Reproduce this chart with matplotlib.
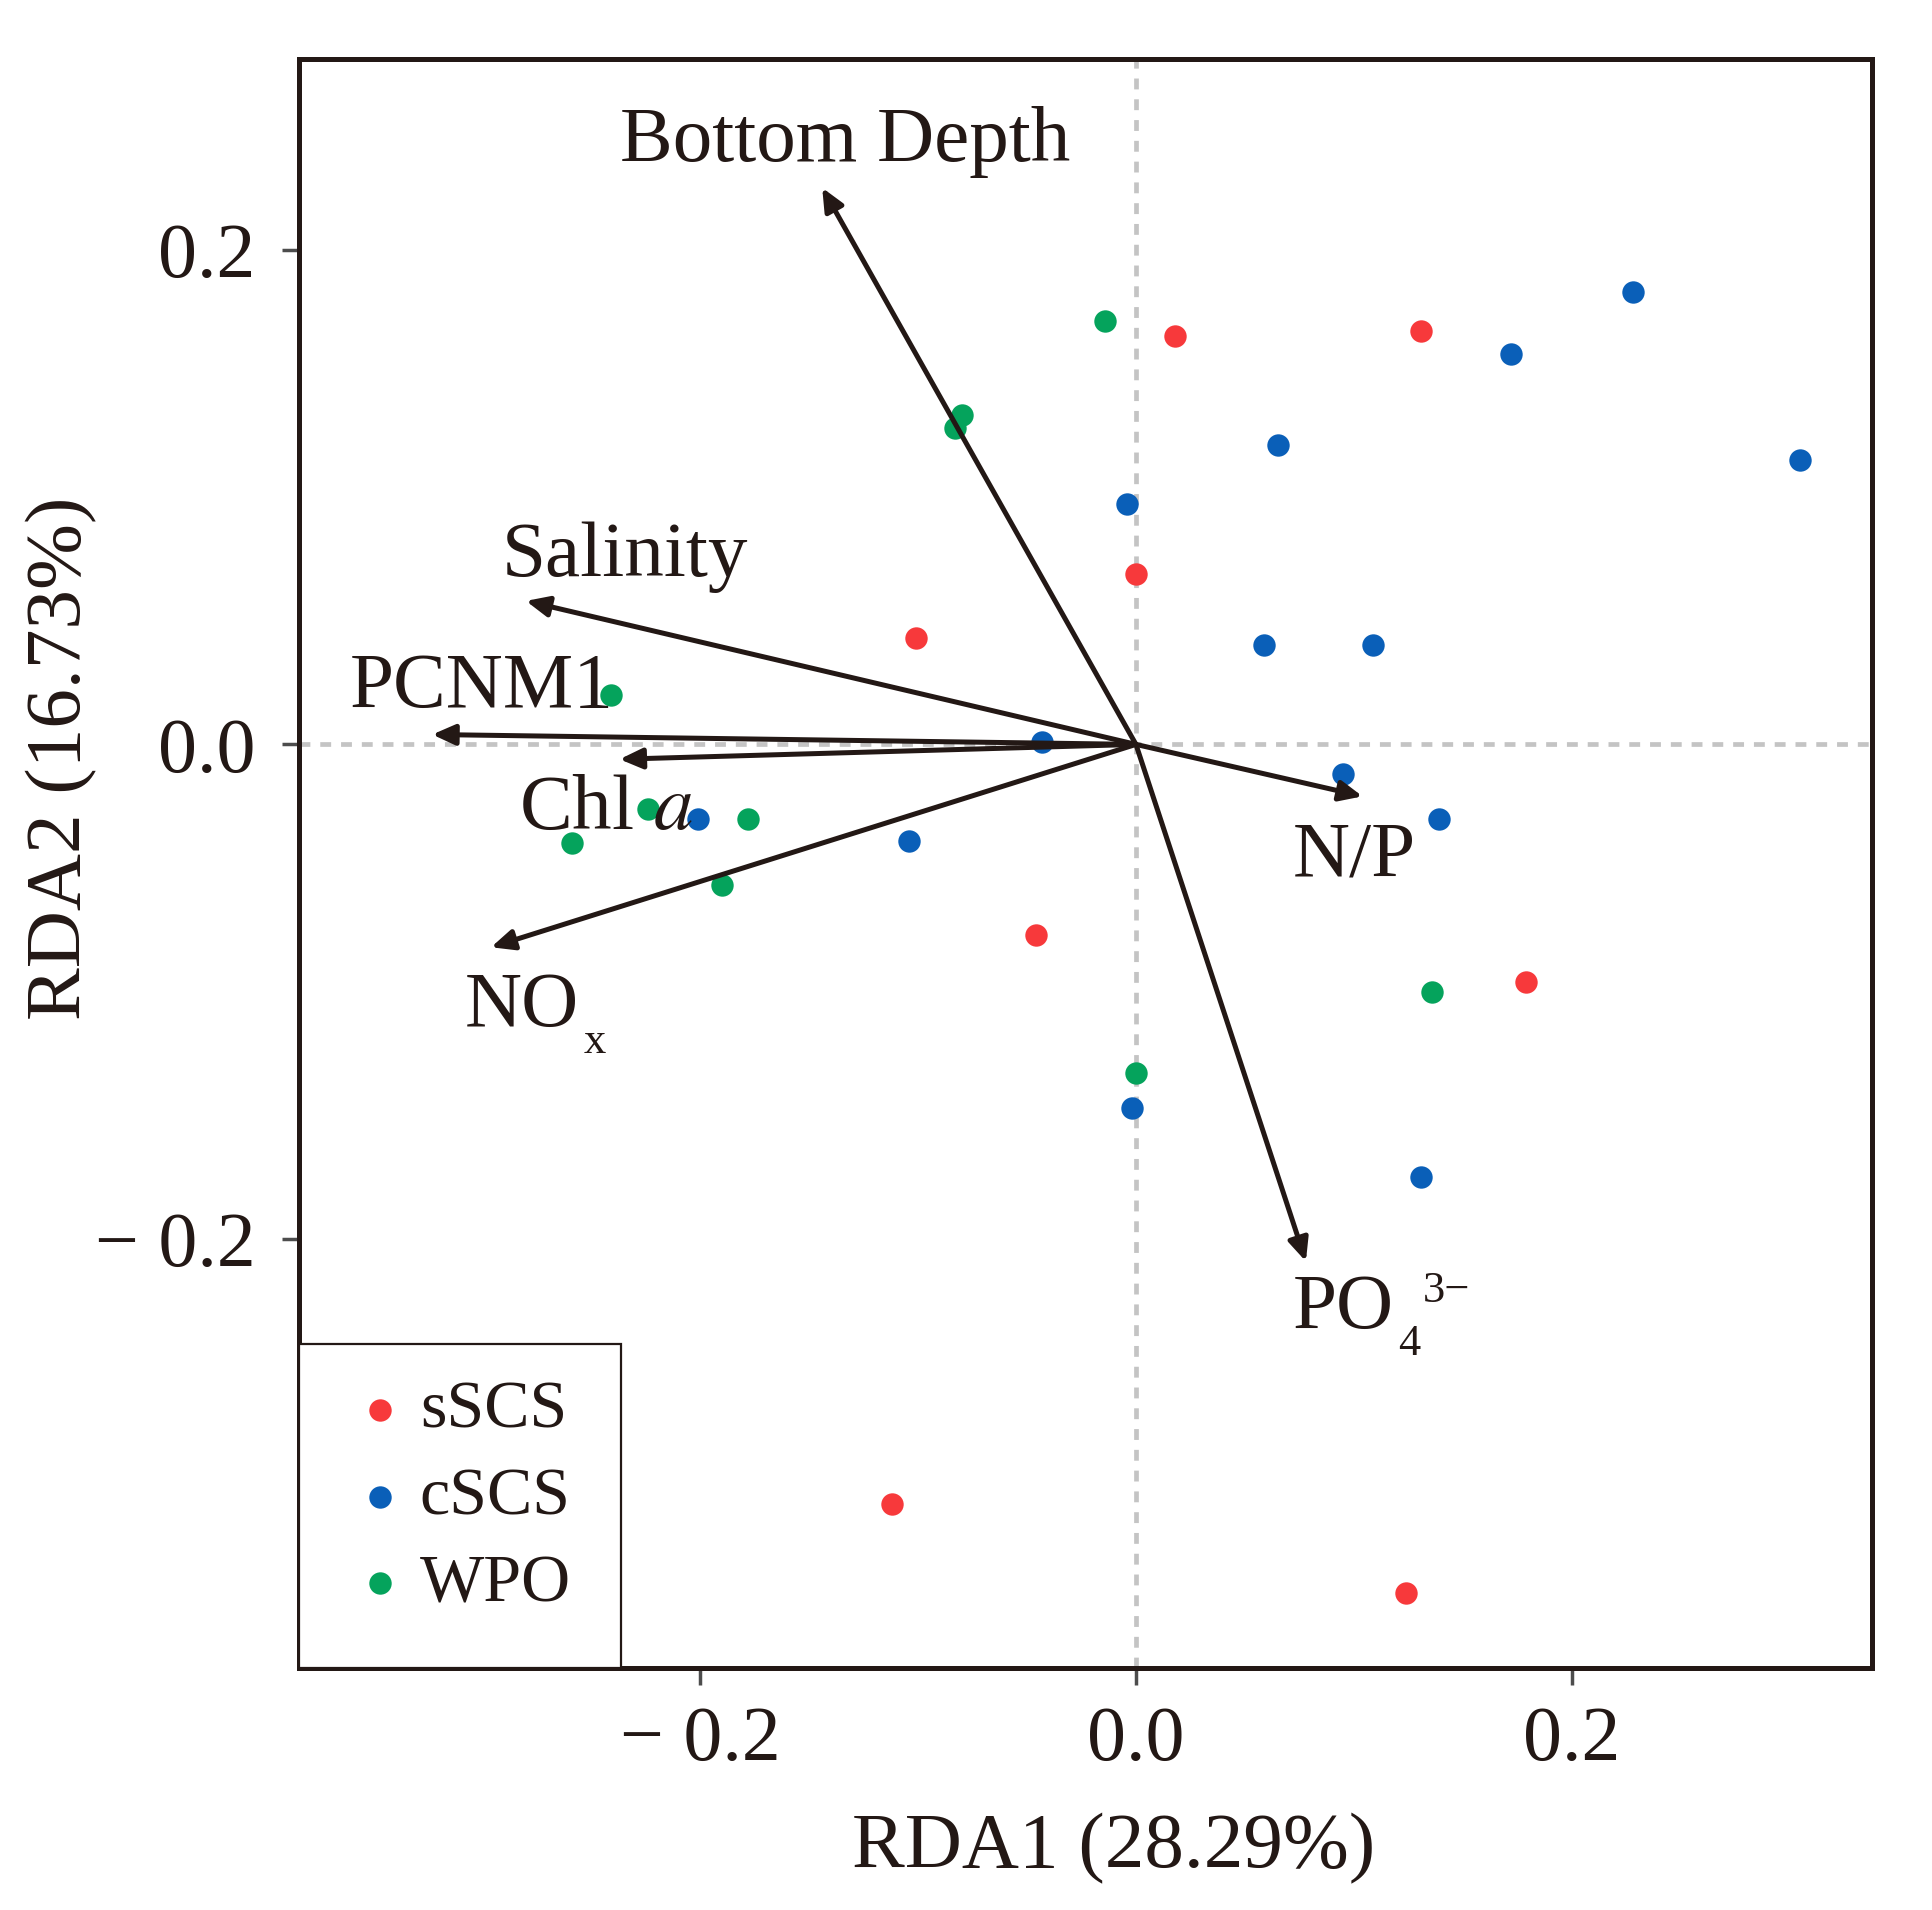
import matplotlib
matplotlib.use("Agg")
import matplotlib.pyplot as plt
from matplotlib.patches import Rectangle

plt.rcParams["font.family"] = ["Liberation Serif", "DejaVu Serif"]
plt.rcParams["mathtext.fontset"] = "stix"

# scores of the sites
sscs_x = [0.018, 0.131, 0.000, -0.101, -0.046, 0.179, -0.112, 0.124]
sscs_y = [0.165, 0.167, 0.069, 0.043, -0.077, -0.096, -0.307, -0.343]

cscs_x = [0.228, 0.172, 0.305, 0.065, -0.004, 0.059, 0.109, -0.043, 0.095, 0.139, -0.201, -0.104, -0.002, 0.131]
cscs_y = [0.183, 0.158, 0.115, 0.121, 0.097, 0.040, 0.040, 0.001, -0.012, -0.030, -0.030, -0.039, -0.147, -0.175]

wpo_x = [-0.014, -0.080, -0.083, -0.241, -0.224, -0.178, -0.259, -0.190, 0.136, 0.000]
wpo_y = [0.171, 0.133, 0.128, 0.020, -0.026, -0.030, -0.040, -0.057, -0.100, -0.133]

# environmental vectors (tips) and their labels
env_names = ["Bottom Depth", "Salinity", "PCNM1", r"Chl $a$", "NO", "N/P", "PO"]
env_sub = ["", "", "", "", "x", "", "4"]
env_sup = ["", "", "", "", "", "", "3\u2212"]
env_x = [-0.144, -0.280, -0.323, -0.237, -0.296, 0.104, 0.078]
env_y = [0.225, 0.058, 0.004, -0.006, -0.082, -0.021, -0.209]
lab_x = [-0.237, -0.291, -0.361, -0.283, -0.308, 0.072, 0.072]
lab_y = [0.236, 0.068, 0.015, -0.034, -0.114, -0.053, -0.236]

ticks = [-0.2, 0.0, 0.2]
tick_labels = ["\u2212 0.2", "0.0", "0.2"]

ink = "#231815"

fig = plt.figure(figsize=(19.32, 19.10), dpi=100)
ax = fig.add_axes([0.1546, 0.1269, 0.8143, 0.842])

ax.axhline(0, color="#c4c4c4", lw=3.4, ls=(0, (2.3, 2.1)), zorder=1)
ax.axvline(0, color="#c4c4c4", lw=3.4, ls=(0, (2.3, 2.1)), zorder=1)

ax.scatter(sscs_x, sscs_y, s=260, color="#f7393b", lw=0, label="sSCS", zorder=3)
ax.scatter(cscs_x, cscs_y, s=260, color="#0a5fb8", lw=0, label="cSCS", zorder=3)
ax.scatter(wpo_x, wpo_y, s=260, color="#05a35c", lw=0, label="WPO", zorder=3)

texts = []
for name, ex, ey, lx, ly in zip(env_names, env_x, env_y, lab_x, lab_y):
    ax.annotate("", xy=(ex, ey), xytext=(0, 0),
                arrowprops=dict(arrowstyle="-|>,head_length=0.8,head_width=0.36",
                                mutation_scale=17, lw=3.6, color=ink,
                                shrinkA=0, shrinkB=0), zorder=4)
    texts.append(ax.text(lx, ly, name, fontsize=57, color=ink,
                         ha="left", va="baseline", zorder=5))

# subscripts / superscripts placed after the main text
fig.canvas.draw()
rend = fig.canvas.get_renderer()
for t, sub, sup, lx, ly in zip(texts, env_sub, env_sup, lab_x, lab_y):
    w = t.get_window_extent(rend).width * 72 / fig.dpi
    if sub:
        ax.annotate(sub, xy=(lx, ly), xytext=(w + 3, -19), textcoords="offset points",
                    fontsize=32, color=ink, ha="left", va="baseline", zorder=5)
    if sup:
        ax.annotate(sup, xy=(lx, ly), xytext=(w + 21, 19), textcoords="offset points",
                    fontsize=32, color=ink, ha="left", va="baseline", zorder=5)

ax.set_xlim(-0.3843, 0.3378)
ax.set_ylim(-0.3732, 0.2769)
ax.set_xticks(ticks)
ax.set_xticklabels(tick_labels)
ax.set_yticks(ticks)
ax.set_yticklabels(tick_labels)
ax.tick_params(length=12, width=2.5, color="#4d4d4d", labelsize=56, labelcolor=ink)
ax.tick_params(axis="x", pad=15)
ax.tick_params(axis="y", pad=19)
for sp in ax.spines.values():
    sp.set_linewidth(3.6)
    sp.set_color(ink)

ax.set_xlabel("RDA1 (28.29%)", fontsize=57, color=ink)
ax.set_ylabel("RDA2 (16.73%)", fontsize=57, color=ink)
ax.xaxis.set_label_coords(0.518, -0.1122)
ax.yaxis.set_label_coords(-0.1505, 0.5657)
ax.xaxis.label.set_va("center")
ax.yaxis.label.set_va("center")

# legend box drawn separately so its size matches
ax.add_patch(Rectangle((0, 0), 0.2046, 0.2014, transform=ax.transAxes,
                       facecolor="white", edgecolor=ink, lw=1.6, zorder=6))
leg = ax.legend(loc="upper left", bbox_to_anchor=(0, 0.2051), borderaxespad=0,
                fontsize=49, frameon=False,
                handlelength=1.16, handletextpad=0.0, borderpad=0.62,
                labelspacing=0.37, markerscale=1.0)
leg.set_zorder(7)
for t in leg.get_texts():
    t.set_color(ink)

fig.savefig("out.png", dpi=100, facecolor="white")
